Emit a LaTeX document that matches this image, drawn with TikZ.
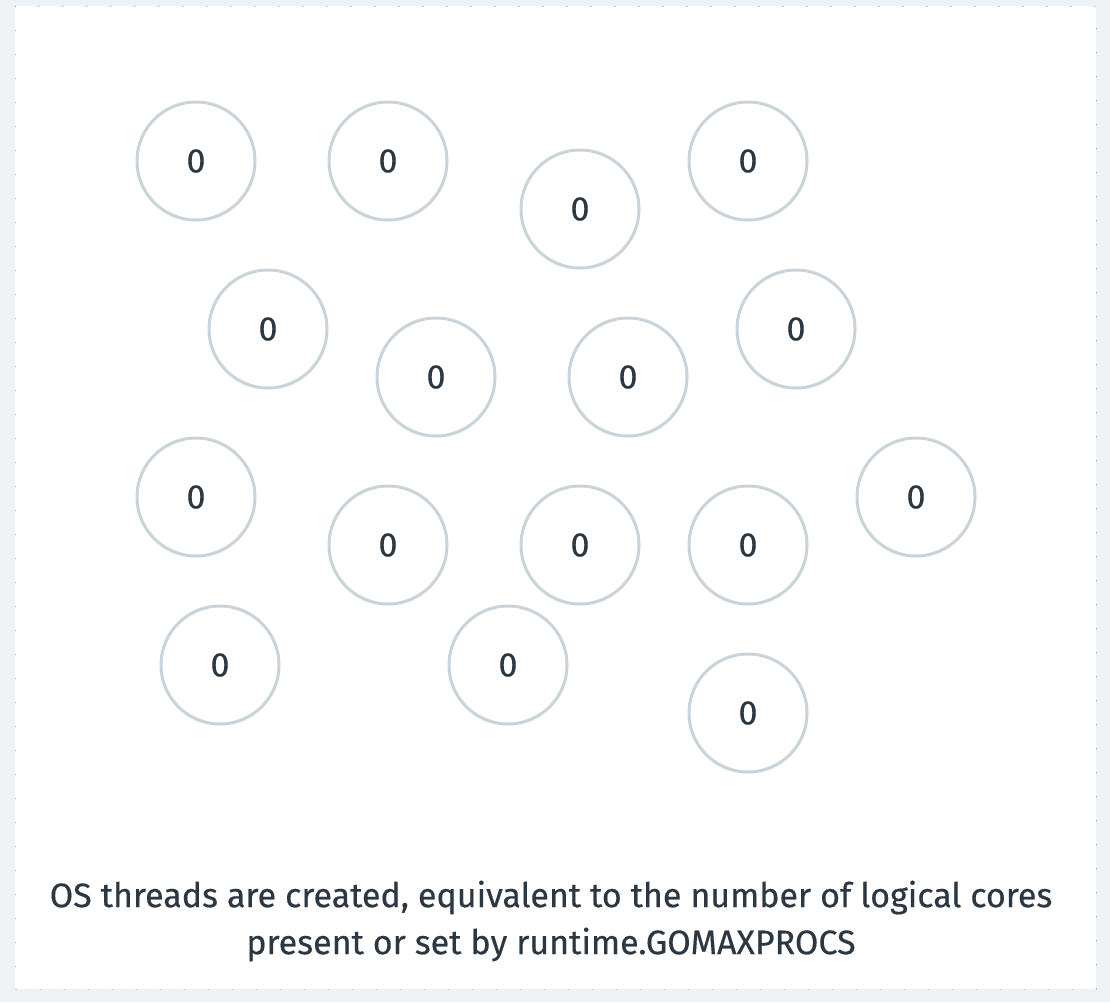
\documentclass[tikz,border=0pt]{standalone}
\usepackage{fontspec}
\setmainfont{Fira Sans}
\newfontfamily\threadfont[FakeBold=0.4]{Fira Sans}
\usetikzlibrary{calc}
\definecolor{pagebg}{HTML}{EEF2F5}
\definecolor{carddot}{HTML}{B8C0C8}
\definecolor{threadline}{HTML}{C8D3DA}
\definecolor{ink}{HTML}{2B3742}
\tikzset{
	thread/.style={circle, draw=threadline, line width=3pt, fill=white,
		minimum size=118pt, inner sep=0pt, text=ink, font=\threadfont\fontsize{34}{40}\selectfont},
	caption/.style={align=center, text=ink, font=\threadfont\fontsize{34}{47}\selectfont}
}
\begin{document}
\begin{tikzpicture}[x=1pt, y=-1pt, line cap=round, line join=round]
	
	% ===== page and card =====
	\useasboundingbox (0,0) rectangle (1110,1002);
	\fill[pagebg] (0,0) rectangle (1110,1002);
	\fill[white, rounded corners=3pt] (15,6) rectangle (1096,989);
	\draw[carddot, line width=1pt, dash pattern=on 0.8pt off 23.2pt] (15,6) rectangle (1096,989);
	
	% ===== OS threads, one per logical core =====
	\foreach \name/\x/\y in {
		t1/196/161, t2/388/161, t3/580/209, t4/748/161,
		t5/268/329, t6/436/377, t7/628/377, t8/796/329,
		t9/196/497, t10/388/545, t11/580/545, t12/748/545, t13/916/497,
		t14/220/665, t15/508/665, t16/748/713}
		\node[thread] (\name) at (\x,\y) {0};
	
	% ===== caption =====
	\node[caption] (note) at (551,921) {OS threads are created, equivalent to the number of logical cores\\present or set by runtime.GOMAXPROCS};
	
\end{tikzpicture}
\end{document}
